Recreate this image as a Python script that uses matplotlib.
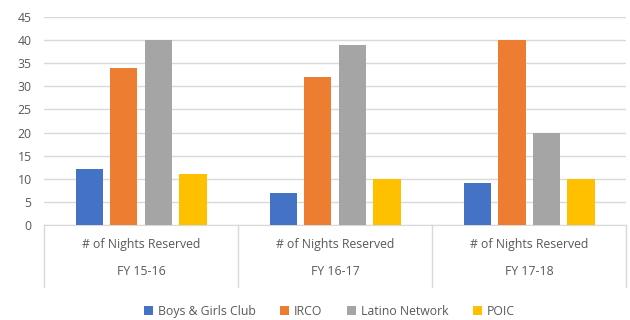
import numpy as np
import matplotlib.pyplot as plt

plt.rcParams['font.family'] = ['Open Sans', 'DejaVu Sans']

years = ['FY 15-16', 'FY 16-17', 'FY 17-18']
sub_label = '# of Nights Reserved'
series = ['Boys & Girls Club', 'IRCO', 'Latino Network', 'POIC']
boys_girls = [12, 7, 9]
irco = [34, 32, 40]
latino = [40, 39, 20]
poic = [11, 10, 10]
colors = ['#4472c4', '#ed7d31', '#a5a5a5', '#ffc000']

values = [boys_girls, irco, latino, poic]
txt = '#595959'
grid_c = '#d9d9d9'
fs = 8.8

fig = plt.figure(figsize=(6.3, 3.2), dpi=100)
ax = fig.add_axes([0.07, 0.297, 0.924, 0.65])

x = np.arange(len(years))
slot = 0.178
width = 0.14
for i, (name, vals) in enumerate(zip(series, values)):
    ax.bar(x + (i - 1.5) * slot, vals, width, color=colors[i], label=name, zorder=3)

ax.set_xlim(-0.5, len(years) - 0.5)
ax.set_ylim(0, 45)
ax.set_yticks(range(0, 46, 5))
ax.tick_params(axis='y', length=0, labelsize=fs, labelcolor=txt, pad=9)
ax.set_xticks([])
ax.grid(axis='y', color=grid_c, linewidth=1, zorder=0)
for s in ['top', 'right', 'left']:
    ax.spines[s].set_visible(False)
ax.spines['bottom'].set_color(grid_c)

# two-level category axis
trans = ax.get_xaxis_transform()
for b in np.arange(-0.5, len(years), 1.0):
    ax.plot([b, b], [0, -0.3], transform=trans, color=grid_c, lw=1, clip_on=False)
for i, yr in enumerate(years):
    ax.text(i, -0.095, sub_label, transform=trans, ha='center', va='center',
            fontsize=fs, color=txt)
    ax.text(i, -0.225, yr, transform=trans, ha='center', va='center',
            fontsize=fs, color=txt)

fig.legend(loc='center', bbox_to_anchor=(0.523, 0.028), ncol=4, frameon=False,
           fontsize=fs, labelcolor=txt, handlelength=0.75, handleheight=0.75,
           handletextpad=0.4, columnspacing=2.0)

fig.savefig('out.png', dpi=100)
